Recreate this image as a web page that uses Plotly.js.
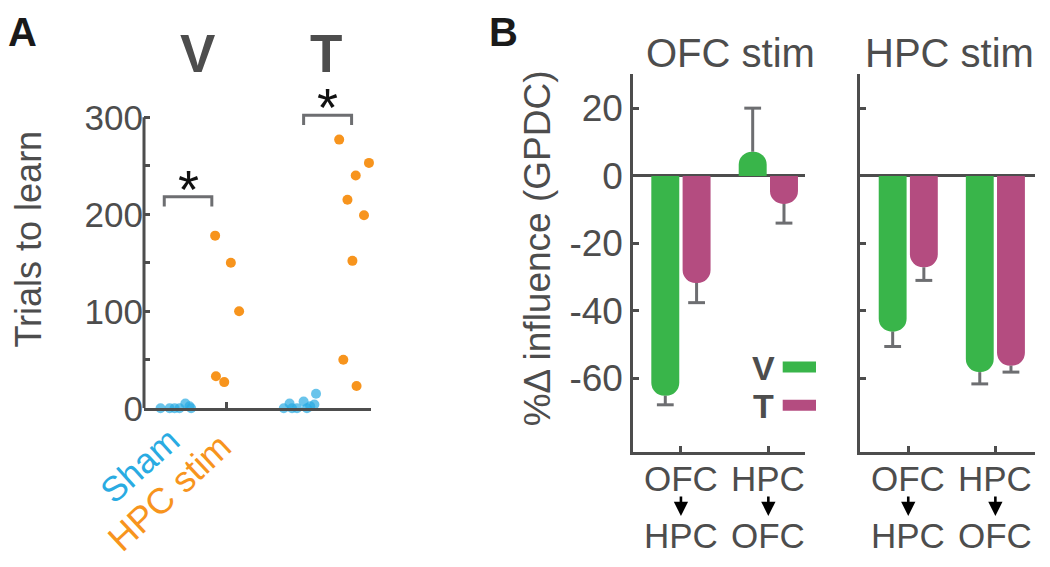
<!DOCTYPE html>
<html><head><meta charset="utf-8">
<script src="https://cdn.plot.ly/plotly-3.0.1.min.js"></script>
<style>html,body{margin:0;padding:0;background:#fff}#chart{width:1050px;height:567px}</style>
</head><body><div id="chart"></div>
<script>
// ---------- Panel A data (trials to learn) ----------
const learnGroups = ['V', 'T'];
const shamV_x = [0.20, 0.31, 0.37, 0.43, 0.50, 0.55, 0.57];
const shamV_y = [0, 0, 0, 0, 5, 2, 0];
const stimV_x = [0.86, 1.05, 1.15, 0.87, 0.97];
const stimV_y = [178, 150, 100, 33, 27];
const shamT_x = [1.69, 1.76, 1.79, 1.85, 1.93, 1.97, 2.01, 2.06, 2.08];
const shamT_y = [0, 5, 0, 0, 7, 0, 2, 4, 15];
const stimT_x = [2.36, 2.72, 2.56, 2.46, 2.66, 2.52, 2.41, 2.57];
const stimT_y = [277, 253, 240, 215, 199, 152, 50, 23];
const trialTicks = [0, 50, 100, 150, 200, 250, 300];
const trialTickText = ['0', '', '100', '', '200', '', '300'];
const sigBracketX0 = [0.245, 1.93];
const sigBracketX1 = [0.82, 2.51];
const sigBracketY = [218, 302];
const groupLabels = ['Sham', 'HPC stim'];

// ---------- Panel B data (%Δ influence, GPDC) ----------
const stimSites = ['OFC stim', 'HPC stim'];
const pathFrom = ['OFC', 'HPC'];
const pathTo = ['HPC', 'OFC'];
const ofcStimV = [-65.2, 7.2];
const ofcStimVErr = [2.7, 12.9];
const ofcStimT = [-31.8, -8.3];
const ofcStimTErr = [5.8, 5.7];
const hpcStimV = [-46.2, -58.2];
const hpcStimVErr = [4.4, 3.5];
const hpcStimT = [-27.1, -56.3];
const hpcStimTErr = [3.9, 1.9];
const gpdcTicks = [20, 0, -20, -40, -60];
const seriesNames = ['V', 'T'];

// ---------- styles ----------
const W = 1050, H = 567;
const FONT = 'Liberation Sans, Arial, sans-serif';
const GRAY = '#4d4d4d', ERR = '#6d6e71';
const BLUE = '#29abe2', ORANGE = '#f7941d';
const GREEN = '#39b54a', MAGENTA = '#b44c80';
const px = v => v / W, py = v => 1 - v / H;

const traces = [];
// Panel A points
traces.push({type:'scatter', mode:'markers', x: shamV_x, y: shamV_y, xaxis:'x', yaxis:'y', cliponaxis:false,
  marker:{color:BLUE, size:10, opacity:0.7}, hoverinfo:'skip'});
traces.push({type:'scatter', mode:'markers', x: shamT_x, y: shamT_y, xaxis:'x', yaxis:'y', cliponaxis:false,
  marker:{color:BLUE, size:10, opacity:0.7}, hoverinfo:'skip'});
traces.push({type:'scatter', mode:'markers', x: stimV_x, y: stimV_y, xaxis:'x', yaxis:'y', cliponaxis:false,
  marker:{color:ORANGE, size:10}, hoverinfo:'skip'});
traces.push({type:'scatter', mode:'markers', x: stimT_x, y: stimT_y, xaxis:'x', yaxis:'y', cliponaxis:false,
  marker:{color:ORANGE, size:10}, hoverinfo:'skip'});

// Panel B bars
const groupX = pathFrom.map((_, i) => i + 1);
const SHIFT = 0.179, BW = 0.32;
function barTrace(vals, color, xa, ya, sign) {
  return {type:'bar', x: groupX.map(g => g + sign * SHIFT), y: vals, width: BW,
    marker:{color: color, cornerradius:'50%', line:{width:0}}, xaxis: xa, yaxis: ya, hoverinfo:'skip'};
}
function errTraces(vals, errs, xa, ya, sign) {
  const xs = [], ys = [], mx = [], my = [];
  vals.forEach((v, i) => {
    const xc = groupX[i] + sign * SHIFT;
    const end = v + Math.sign(v) * errs[i];
    xs.push(xc, xc, null); ys.push(v, end, null);
    mx.push(xc); my.push(end);
  });
  return [
    {type:'scatter', mode:'lines', x: xs, y: ys, line:{color:ERR, width:3}, xaxis: xa, yaxis: ya, hoverinfo:'skip', cliponaxis:false},
    {type:'scatter', mode:'markers', x: mx, y: my, marker:{symbol:'line-ew', size:12, line:{color:ERR, width:3}}, xaxis: xa, yaxis: ya, hoverinfo:'skip', cliponaxis:false}
  ];
}
traces.push(barTrace(ofcStimV, GREEN, 'x2', 'y2', -1));
traces.push(barTrace(ofcStimT, MAGENTA, 'x2', 'y2', 1));
traces.push(barTrace(hpcStimV, GREEN, 'x3', 'y3', -1));
traces.push(barTrace(hpcStimT, MAGENTA, 'x3', 'y3', 1));
traces.push(...errTraces(ofcStimV, ofcStimVErr, 'x2', 'y2', -1));
traces.push(...errTraces(ofcStimT, ofcStimTErr, 'x2', 'y2', 1));
traces.push(...errTraces(hpcStimV, hpcStimVErr, 'x3', 'y3', -1));
traces.push(...errTraces(hpcStimT, hpcStimTErr, 'x3', 'y3', 1));

const axBase = {showgrid:false, zeroline:false, ticks:'inside', ticklen:6, tickwidth:3, tickcolor:GRAY,
  linecolor:GRAY, linewidth:3, fixedrange:true, tickfont:{family:FONT, color:GRAY, size:35}};

const layout = {
  width: W, height: H, margin:{l:0, r:0, t:0, b:0}, paper_bgcolor:'#fff', plot_bgcolor:'rgba(0,0,0,0)',
  showlegend:false, barmode:'overlay', font:{family:FONT, color:GRAY},
  xaxis: Object.assign({}, axBase, {domain:[px(144), px(370.7)], range:[0, 2.741], showline:true,
    tickvals:[1, 2.741], showticklabels:false, anchor:'y'}),
  yaxis: Object.assign({}, axBase, {domain:[py(408.3), py(73.65)], range:[0, 345], showline:false,
    tickvals: trialTicks, ticktext: trialTickText, anchor:'x'}),
  xaxis2: Object.assign({}, axBase, {domain:[px(633.3), px(805.4)], range:[0.455, 2.424], showline:true,
    tickvals: groupX, showticklabels:false, anchor:'y2'}),
  yaxis2: Object.assign({}, axBase, {domain:[py(452), py(74.1)], range:[-81.9, 30.2], showline:true,
    tickvals: gpdcTicks, ticktext: gpdcTicks.map(String), zeroline:true, zerolinecolor:GRAY, zerolinewidth:3,
    tickfont:{family:FONT, color:GRAY, size:37}, anchor:'x2'}),
  xaxis3: Object.assign({}, axBase, {domain:[px(860), px(1035)], range:[0.446, 2.455], showline:true,
    tickvals: groupX, showticklabels:false, anchor:'y3'}),
  yaxis3: Object.assign({}, axBase, {domain:[py(452), py(74.1)], range:[-81.9, 30.2], showline:true,
    tickvals: gpdcTicks, showticklabels:false, zeroline:true, zerolinecolor:GRAY, zerolinewidth:3, anchor:'x3'}),
  shapes: [],
  annotations: []
};

// Panel A y-axis line (only up to the top tick)
layout.shapes.push({type:'line', xref:'x domain', yref:'y', x0:0, x1:0, y0:trialTicks[0], y1:trialTicks[trialTicks.length-1],
  line:{color:GRAY, width:3}});
// significance brackets
sigBracketX0.forEach((x0, i) => {
  const x1 = sigBracketX1[i], top = sigBracketY[i], leg = top - 10;
  layout.shapes.push({type:'path', xref:'x', yref:'y', path:`M ${x0},${leg} L ${x0},${top} L ${x1},${top} L ${x1},${leg}`,
    line:{color:ERR, width:3}});
  layout.annotations.push({xref:'x', yref:'y', x:(x0 + x1) / 2, y: top, yshift:40, text:'*', showarrow:false,
    yanchor:'top', valign:'top', height:32, font:{family:FONT, size:54, color:'#111'}});
});

const ann = (text, x, y, size, opts) => Object.assign({text, x, y, xref:'paper', yref:'paper', showarrow:false,
  xanchor:'center', yanchor:'middle', font:{family:FONT, size, color:GRAY}}, opts || {});

layout.annotations.push(ann('<b>A</b>', px(22.5), py(32.5), 40, {font:{family:FONT, size:40, color:'#1a1a1a'}}));
layout.annotations.push(ann('<b>B</b>', px(503), py(32.5), 40, {font:{family:FONT, size:40, color:'#1a1a1a'}}));
layout.annotations.push(ann('<b>' + learnGroups[0] + '</b>', px(197.5), py(53), 53, {height:40, valign:'middle'}));
layout.annotations.push(ann('<b>' + learnGroups[1] + '</b>', px(326), py(53), 53, {height:40, valign:'middle'}));
layout.annotations.push(ann('Trials to learn', px(29), py(239.6), 36, {textangle:-90}));
layout.annotations.push(ann(groupLabels[0], px(139), py(465.5), 35, {textangle:-42, font:{family:FONT, size:35, color:BLUE}}));
layout.annotations.push(ann(groupLabels[1], px(169), py(492), 36, {textangle:-43, font:{family:FONT, size:36, color:ORANGE}}));

layout.annotations.push(ann('%\u0394 influence (GPDC)', px(537.7), py(248.6), 37, {textangle:-90}));
layout.annotations.push(ann(stimSites[0], px(730.8), py(53), 40));
layout.annotations.push(ann(stimSites[1], px(949.3), py(53), 40));

// legend
[[GREEN, 367], [MAGENTA, 405.2]].forEach(([c, yc], i) => {
  layout.shapes.push({type:'rect', xref:'paper', yref:'paper', x0:px(782.7), x1:px(816), y0:py(yc + 5.5), y1:py(yc - 5.5),
    fillcolor:c, line:{width:0}});
  layout.annotations.push(ann('<b>' + seriesNames[i] + '</b>', px(763), py(yc + 1), 34));
});

// category labels under B axes
['x2', 'x3'].forEach(xa => {
  groupX.forEach((g, i) => {
    layout.annotations.push(Object.assign(ann(pathFrom[i], g, py(478), 35), {xref: xa}));
    layout.annotations.push(Object.assign(ann(pathTo[i], g, py(535), 35), {xref: xa}));
    layout.annotations.push({xref: xa, yref:'paper', x: g, y: py(516), text:'', showarrow:true,
      ax:0, ay:-21, arrowhead:2, arrowsize:1.1, arrowwidth:2.6, arrowcolor:'#000'});
  });
});

Plotly.newPlot('chart', traces, layout, {staticPlot:true, displayModeBar:false});
</script>
</body></html>
